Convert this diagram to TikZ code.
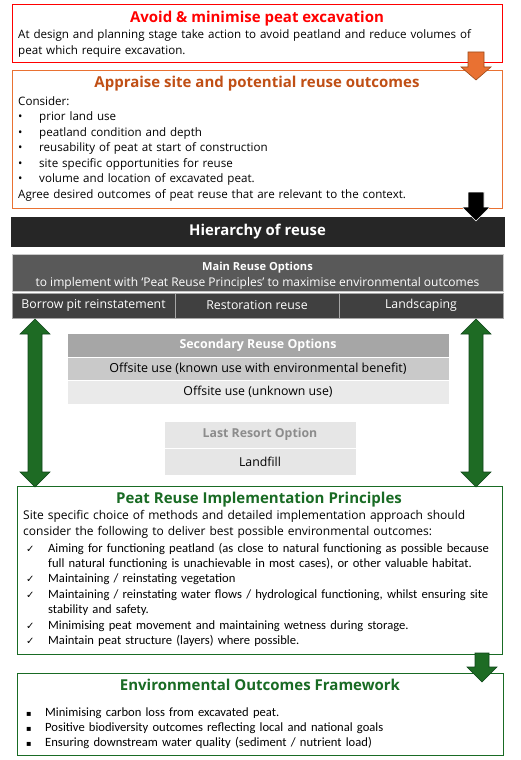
\documentclass[tikz,border=0pt]{standalone}
\usepackage{fontspec}
\setmainfont{Open Sans}
\newfontfamily\calib{Carlito}
\newfontfamily\djv{DejaVu Sans}
\usetikzlibrary{fit}
\definecolor{cRed}{HTML}{FF0000}
\definecolor{cOrange}{HTML}{E97132}
\definecolor{cOrangeD}{HTML}{C04F15}
\definecolor{cOrangeE}{HTML}{9C4A1A}
\definecolor{cBar}{HTML}{262626}
\definecolor{cMain}{HTML}{595959}
\definecolor{cCell}{HTML}{404040}
\definecolor{cSec}{HTML}{A6A6A6}
\definecolor{cKnown}{HTML}{C9C9C9}
\definecolor{cUnknown}{HTML}{EAEAEA}
\definecolor{cLast}{HTML}{E6E6E6}
\definecolor{cLastT}{HTML}{8C8C8C}
\definecolor{cGreen}{HTML}{196B24}
\definecolor{cGreenF}{HTML}{1E6B24}
\definecolor{cGreenE}{HTML}{10461A}
\begin{document}
\begin{tikzpicture}[x=1pt,y=-1pt,
  frame/.style={draw, line width=1pt, fill=white, inner sep=0pt},
  panel/.style={inner sep=0pt, draw=#1},
  title/.style={inner sep=0pt, anchor=base, font=\fontsize{15}{17}\selectfont\bfseries},
  body/.style={inner sep=0pt, anchor=base west, align=left, text width=485pt, font=\fontsize{11.6}{15.5}\selectfont},
  cbody/.style={inner sep=0pt, anchor=base west, align=left, text width=485pt, font=\calib\fontsize{12.6}{15.4}\selectfont},
  label/.style={inner sep=0pt, font=\fontsize{12.3}{14}\selectfont},
  blockarrow/.style={line width=0.6pt, line join=miter}
]
\useasboundingbox[fill=white] (0,0) rectangle (520,760);

% ---- Avoid box
\node[frame, draw=cRed, fit={(12,5)(502,63)}] (avoid) {};
\node[title, text=cRed] (avoidT) at (257,23) {Avoid \& minimise peat excavation};
\node[body] (avoidB) at (18,39) {At design and planning stage take action to avoid peatland and reduce volumes of\\peat which require excavation.};

% ---- Appraise box
\node[frame, draw=cOrange, fit={(12,71)(502,208)}] (appr) {};
\node[title, text=cOrangeD] (apprT) at (257,88) {Appraise site and potential reuse outcomes};
\node[body] (apprB) at (18,105) {Consider:\\
\makebox[21pt][l]{•}prior land use\\
\makebox[21pt][l]{•}peatland condition and depth\\
\makebox[21pt][l]{•}reusability of peat at start of construction\\
\makebox[21pt][l]{•}site specific opportunities for reuse\\
\makebox[21pt][l]{•}volume and location of excavated peat.\\
Agree desired outcomes of peat reuse that are relevant to the context.};

% ---- Hierarchy bar
\node[panel=cBar, fill=cBar, fit={(11,217)(504,246)}] (hier) {};
\node[inner sep=0pt, text=white, font=\fontsize{14.9}{17}\selectfont\bfseries] (hierT) at (hier.center) {Hierarchy of reuse};

% ---- Main reuse options
\node[panel=cKnown, fill=cMain, line width=0.6pt, fit={(12,254)(503,291)}] (main) {};
\node[inner sep=0pt, anchor=base, text=white, font=\fontsize{11.1}{13}\selectfont\bfseries] (mainT) at (257.5,270.5) {Main Reuse Options};
\node[inner sep=0pt, anchor=base, text=white, font=\fontsize{12}{13}\selectfont] (mainS) at (257.5,286) {to implement with ‘Peat Reuse Principles’ to maximise environmental outcomes};

\node[panel=cSec, fill=cCell, line width=0.6pt, fit={(12,293)(175,318)}] (c1) {};
\node[panel=cSec, fill=cCell, line width=0.6pt, fit={(175,293)(339,318)}] (c2) {};
\node[panel=cSec, fill=cCell, line width=0.6pt, fit={(339,293)(503,318)}] (c3) {};
\node[label, text=white] (c1T) at (c1.center) {Borrow pit reinstatement};
\node[label, text=white] (c2T) at (c2.center) {Restoration reuse};
\node[label, text=white] (c3T) at (c3.center) {Landscaping};

% ---- Secondary options
\node[panel=cSec, fill=cSec, fit={(68,334)(448,356)}] (sec) {};
\node[inner sep=0pt, text=white, font=\fontsize{12.4}{14}\selectfont\bfseries] (secT) at (sec.center) {Secondary Reuse Options};
\node[panel=cKnown, fill=cKnown, fit={(68,358)(448,379)}] (known) {};
\node[label, font=\fontsize{12.5}{14}\selectfont] (knownT) at (known.center) {Offsite use (known use with environmental benefit)};
\node[panel=cUnknown, fill=cUnknown, fit={(68,381)(448,403)}] (unknown) {};
\node[label] (unknownT) at (unknown.center) {Offsite use (unknown use)};

% ---- Last resort
\node[panel=cLast, fill=cLast, fit={(165,422)(355,447)}] (last) {};
\node[inner sep=0pt, text=cLastT, font=\fontsize{12.3}{14}\selectfont\bfseries] (lastT) at (last.center) {Last Resort Option};
\node[panel=cLast, fill=cLast, fit={(165,449)(355,474)}] (landfill) {};
\node[label] (landfillT) at (landfill.center) {Landfill};

% ---- Principles box
\node[frame, draw=cGreen, fit={(17,486)(502,654)}] (prip) {};
\node[title, text=cGreen] (pripT) at (259,503) {Peat Reuse Implementation Principles};
\node[body, font=\fontsize{12}{16}\selectfont] (pripI) at (23,519) {Site specific choice of methods and detailed implementation approach should\\consider the following to deliver best possible environmental outcomes:};
\node[cbody] (pripL) at (26,552) {\makebox[22pt][l]{\djv\fontsize{10}{10}\selectfont ✓}Aiming for functioning peatland (as close to natural functioning as possible because\\
\hspace*{22pt}full natural functioning is unachievable in most cases), or other valuable habitat.\\
\makebox[22pt][l]{\djv\fontsize{10}{10}\selectfont ✓}Maintaining / reinstating vegetation\\
\makebox[22pt][l]{\djv\fontsize{10}{10}\selectfont ✓}Maintaining / reinstating water flows / hydrological functioning, whilst ensuring site\\
\hspace*{22pt}stability and safety.\\
\makebox[22pt][l]{\djv\fontsize{10}{10}\selectfont ✓}Minimising peat movement and maintaining wetness during storage.\\
\makebox[22pt][l]{\djv\fontsize{10}{10}\selectfont ✓}Maintain peat structure (layers) where possible.};

% ---- Environmental outcomes box
\node[frame, draw=cGreen, fit={(17,673)(503,755)}] (eof) {};
\node[title, text=cGreen] (eofT) at (260,690) {Environmental Outcomes Framework};
\node[cbody] (eofL) at (26,716) {\makebox[19pt][l]{\djv\fontsize{8}{8}\selectfont ▪}Minimising carbon loss from excavated peat.\\
\makebox[19pt][l]{\djv\fontsize{8}{8}\selectfont ▪}Positive biodiversity outcomes reflecting local and national goals\\
\makebox[19pt][l]{\djv\fontsize{8}{8}\selectfont ▪}Ensuring downstream water quality (sediment / nutrient load)};

% ---- Block arrows
\filldraw[blockarrow, fill=cOrange, draw=cOrangeE] (468,52) -- (484,52) -- (484,67) -- (491,67) -- (476,80) -- (461,67) -- (468,67) -- cycle;
\filldraw[blockarrow, fill=black, draw=white] (468,192) -- (484,192) -- (484,207) -- (490,207) -- (476,221) -- (462,207) -- (468,207) -- cycle;
\filldraw[blockarrow, fill=cGreenF, draw=cGreenE] (35,319) -- (50,334) -- (42,334) -- (42,472) -- (50,472) -- (35,487) -- (20,472) -- (28,472) -- (28,334) -- (20,334) -- cycle;
\filldraw[blockarrow, fill=cGreenF, draw=cGreenE] (476,319) -- (491,334) -- (483,334) -- (483,472) -- (491,472) -- (476,487) -- (461,472) -- (469,472) -- (469,334) -- (461,334) -- cycle;
\filldraw[blockarrow, fill=cGreenF, draw=cGreenE] (475,653) -- (489,653) -- (489,667) -- (497,667) -- (482,682) -- (467,667) -- (475,667) -- cycle;
\end{tikzpicture}
\end{document}
